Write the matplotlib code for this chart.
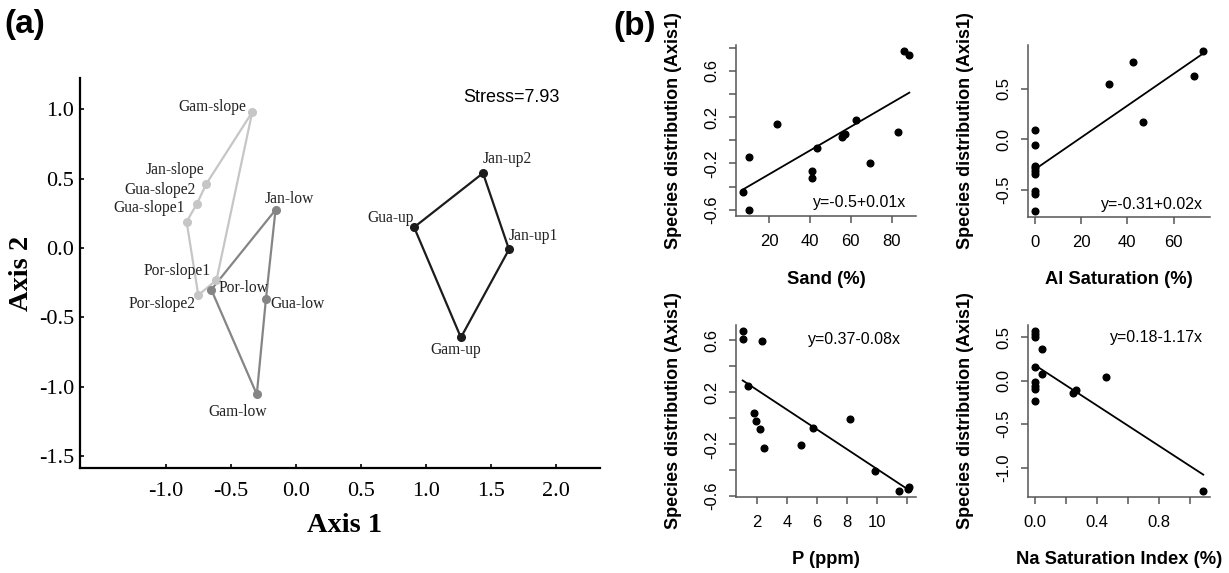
import numpy as np
import matplotlib
matplotlib.use("Agg")
import matplotlib.pyplot as plt

plt.rcParams['axes.unicode_minus'] = False

# ---- panel (a): NMDS ordination ----
slope_names = ['Gam-slope', 'Jan-slope', 'Gua-slope2', 'Gua-slope1', 'Por-slope2', 'Por-slope1']
slope_x = [-0.335, -0.69, -0.76, -0.84, -0.75, -0.61]
slope_y = [0.98, 0.46, 0.32, 0.19, -0.34, -0.23]

low_names = ['Jan-low', 'Por-low', 'Gam-low', 'Gua-low']
low_x = [-0.156, -0.65, -0.30, -0.23]
low_y = [0.275, -0.30, -1.055, -0.37]

up_names = ['Gua-up', 'Jan-up2', 'Jan-up1', 'Gam-up']
up_x = [0.91, 1.44, 1.64, 1.27]
up_y = [0.15, 0.54, -0.01, -0.645]

stress_text = 'Stress=7.93'

# ---- panel (b): regressions against soil variables ----
sand_x = [7.1, 10.4, 10.4, 23.7, 41.2, 41.2, 43.3, 55.7, 56.3, 57.3, 62.5, 69.2, 82.9, 85.9, 88.6]
sand_y = [-0.447, -0.144, -0.60, 0.141, -0.265, -0.326, -0.069, 0.026, 0.046, 0.058, 0.179, -0.199, 0.069, 0.77, 0.741]

al_x = [0, 0, 0, 0, 0, 0, 0, 0, 0, 32.2, 42.5, 46.9, 69.0, 72.8]
al_y = [0.09, -0.057, -0.265, -0.29, -0.317, -0.345, -0.51, -0.545, -0.71, 0.548, 0.766, 0.167, 0.632, 0.873]

p_x = [1.04, 1.04, 2.33, 1.40, 1.78, 1.93, 2.22, 2.49, 4.89, 5.69, 8.18, 9.82, 11.44, 12.13, 12.05]
p_y = [0.67, 0.61, 0.592, 0.247, 0.044, -0.021, -0.086, -0.226, -0.203, -0.078, -0.005, -0.408, -0.558, -0.532, -0.548]

na_x = [0, 0, 0, 0.05, 0, 0.05, 0, 0, 0, 0, 0.25, 0.265, 0.461, 1.087]
na_y = [0.567, 0.536, 0.497, 0.366, 0.162, 0.073, -0.012, -0.062, -0.10, -0.235, -0.139, -0.108, 0.039, -1.265]

fits = {'sand': (-0.50, 0.0103), 'al': (-0.301, 0.01585),
        'p': (0.371, -0.0764), 'na': (0.18, -1.16)}
eq_text = {'sand': 'y=-0.5+0.01x', 'al': 'y=-0.31+0.02x',
           'p': 'y=0.37-0.08x', 'na': 'y=0.18-1.17x'}

fig = plt.figure(figsize=(12.29, 5.73), dpi=100)

serif = 'Liberation Serif'
sans = 'Liberation Sans'

# ================= panel (a) =================
ax = fig.add_axes([80 / 1229, 1 - 468 / 573, 520 / 1229, 390 / 573])
ax.set_xlim(-1.66, 2.34)
ax.set_ylim(-1.586, 1.226)
for s in ['top', 'right']:
    ax.spines[s].set_visible(False)
for s in ['left', 'bottom']:
    ax.spines[s].set_linewidth(1.6)
ax.set_xticks([-1.0, -0.5, 0.0, 0.5, 1.0, 1.5, 2.0])
ax.set_yticks([-1.5, -1.0, -0.5, 0.0, 0.5, 1.0])
ax.set_xticklabels([f'{v:.1f}' for v in ax.get_xticks()], family=serif, fontsize=16)
ax.set_yticklabels([f'{v:.1f}' for v in ax.get_yticks()], family=serif, fontsize=16)
ax.tick_params(axis='x', direction='in', length=3, width=1.2, pad=10)
ax.tick_params(axis='y', direction='in', length=3, width=1.2, pad=4)

groups = [
    (slope_names, slope_x, slope_y, '#c6c6c6'),
    (low_names, low_x, low_y, '#858585'),
    (up_names, up_x, up_y, '#1c1c1c'),
]
for names, xs, ys, col in groups:
    ax.plot(xs + xs[:1], ys + ys[:1], '-', color=col, lw=1.6, zorder=2)
    ax.plot(xs, ys, 'o', color=col, ms=5.5, zorder=3)

# label offsets (points) and alignment
lab_pos = {
    'Gam-slope': (-4, 4, 'right'), 'Jan-slope': (-1, 10, 'right'),
    'Gua-slope2': (-1, 10, 'right'), 'Gua-slope1': (-1, 9.5, 'right'),
    'Por-slope1': (-4, 6.5, 'right'), 'Por-slope2': (-2, -6.7, 'right'),
    'Jan-low': (10, 8, 'center'), 'Por-low': (5.5, 1, 'left'),
    'Gua-low': (3, -3.7, 'left'), 'Gam-low': (-14, -12.5, 'center'),
    'Gua-up': (0, 7, 'right'), 'Jan-up2': (0, 10, 'left'),
    'Jan-up1': (0, 9.7, 'left'), 'Gam-up': (-4, -9, 'center'),
}
for names, xs, ys, col in groups:
    for n, x, y in zip(names, xs, ys):
        dx, dy, ha = lab_pos[n]
        ax.annotate(n, (x, y), xytext=(dx, dy), textcoords='offset points',
                    ha=ha, va='center', family=serif, fontsize=11.2, color='#222222')

ax.text(1.66, 1.085, stress_text, ha='center', va='center', family=sans, fontsize=13)

fig.text(345 / 1229, 1 - 526 / 573, 'Axis 1', ha='center', va='center',
         family=serif, fontweight='bold', fontsize=20.5)
fig.text(21 / 1229, 1 - 273 / 573, 'Axis 2', ha='center', va='center', rotation=90,
         family=serif, fontweight='bold', fontsize=20.5)
fig.text(4 / 1229, 1 - 25 / 573, '(a)', ha='left', va='center',
         family=sans, fontweight='bold', fontsize=24)
fig.text(613 / 1229, 1 - 27 / 573, '(b)', ha='left', va='center',
         family=sans, fontweight='bold', fontsize=24)

# ================= panel (b) =================
sub = [
    ('sand', sand_x, sand_y, 'Sand (%)', [736, 45, 916, 216],
     [20, 40, 60, 80], ['20', '40', '60', '80'],
     [-0.6, -0.4, -0.2, 0.0, 0.2, 0.4, 0.6, 0.8], ['-0.6', '', '-0.2', '', '0.2', '', '0.6', ''],
     (64.5, -0.542)),
    ('al', al_x, al_y, 'Al Saturation (%)', [1028, 45, 1210, 217],
     [0, 20, 40, 60], ['0', '20', '40', '60'],
     [-0.5, 0.0, 0.5], ['-0.5', '0.0', '0.5'],
     (50.7, -0.645)),
    ('p', p_x, p_y, 'P (ppm)', [736, 325, 916, 497],
     [2, 4, 6, 8, 10, 12], ['2', '4', '6', '8', '10', ''],
     [-0.6, -0.4, -0.2, 0.0, 0.2, 0.4, 0.6], ['-0.6', '', '-0.2', '', '0.2', '', '0.6'],
     (8.45, 0.609)),
    ('na', na_x, na_y, 'Na Saturation Index (%)', [1028, 325, 1210, 497],
     [0.0, 0.2, 0.4, 0.6, 0.8, 1.0], ['0.0', '', '0.4', '', '0.8', ''],
     [-1.0, -0.5, 0.0, 0.5], ['-1.0', '-0.5', '0.0', '0.5'],
     (0.786, 0.50)),
]

axis_col = '#555555'
for key, xs, ys, xlab, box, xt, xtl, yt, ytl, eqpos in sub:
    x0, y0, x1, y1 = box
    b = fig.add_axes([x0 / 1229, 1 - y1 / 573, (x1 - x0) / 1229, (y1 - y0) / 573])
    b.plot(xs, ys, 'o', color='black', ms=4.8, zorder=3)
    a0, a1 = fits[key]
    lx = np.array([min(xs), max(xs)])
    b.plot(lx, a0 + a1 * lx, '-', color='black', lw=1.3)
    b.margins(x=0.04, y=0.04)
    for s in ['top', 'right']:
        b.spines[s].set_visible(False)
    for s in ['left', 'bottom']:
        b.spines[s].set_color(axis_col)
        b.spines[s].set_linewidth(1.1)
    b.set_xticks(xt)
    b.set_xticklabels(xtl, family=sans, fontsize=12)
    b.set_yticks(yt)
    b.set_yticklabels(ytl, family=sans, fontsize=12, rotation=90, va='center')
    b.tick_params(direction='out', length=5, width=1.1, color=axis_col)
    b.tick_params(axis='x', pad=8)
    b.tick_params(axis='y', pad=7)
    b.text(eqpos[0], eqpos[1], eq_text[key], ha='center', va='center',
           family=sans, fontsize=11.5)
    fig.text((x0 + x1) / 2 / 1229, 1 - (y1 + 63) / 573, xlab, ha='center', va='center',
             family=sans, fontweight='bold', fontsize=13.2)
    fig.text((x0 - 63) / 1229, 1 - (y0 + y1) / 2 / 573, 'Species distribution (Axis1)',
             ha='center', va='center', rotation=90,
             family=sans, fontweight='bold', fontsize=13)

fig.savefig('out.png', dpi=100)
